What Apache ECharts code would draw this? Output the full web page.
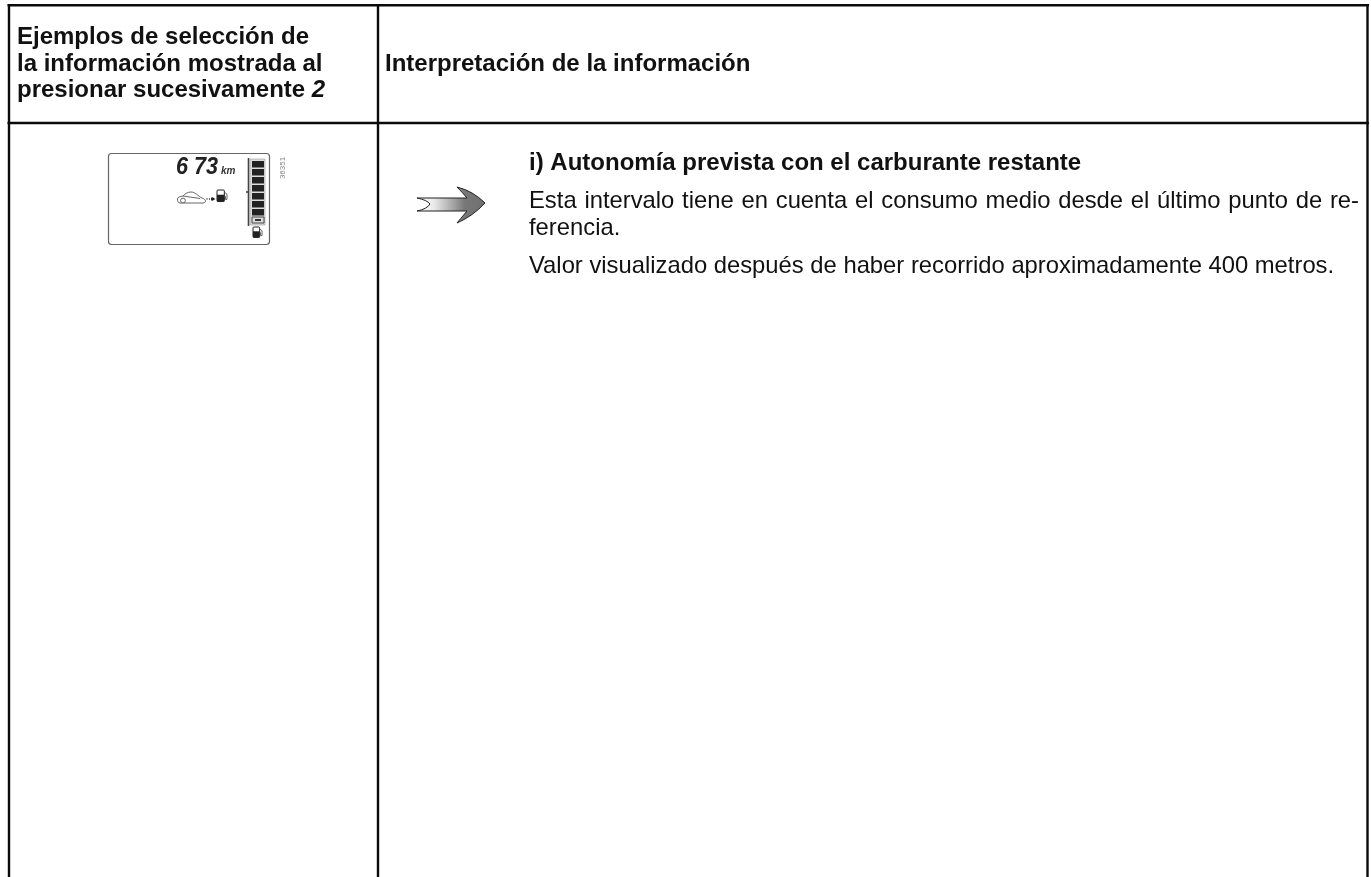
<!DOCTYPE html>
<html><head><meta charset="utf-8">
<style>html,body{margin:0;padding:0;background:#fff}#c{width:1371px;height:877px}</style>
<script src="https://cdn.jsdelivr.net/npm/echarts@6/dist/echarts.min.js"></script>
</head><body><div id="c"></div>
<script>
const headerLeftLines = ['Ejemplos de selección de','la información mostrada al'];
const headerLeftLast = 'presionar sucesivamente ';
const headerLeftItalic = '2';
const headerRight = 'Interpretación de la información';
const itemTitle = 'i) Autonomía prevista con el carburante restante';
const bodyJustified = 'Esta intervalo tiene en cuenta el consumo medio desde el último punto de re-';
const bodyCont = 'ferencia.';
const bodyLast = 'Valor visualizado después de haber recorrido aproximadamente 400 metros.';
const lcdValue = '6 73';
const lcdUnit = 'km';
const lcdCode = '36351';
const gaugeCellTops = [161,169,177,185,193,201,209];

const FF = '"Liberation Sans", Arial, sans-serif';
const chart = echarts.init(document.getElementById('c'), null, {renderer:'canvas'});
const el = [];
function reg(name,d){echarts.graphic.registerShape(name,echarts.graphic.extendPath(d,{}));}
reg('arrowShape','M417 198 L467 198 Q462 192 457 187 Q473 191 485 203 Q473 216 457 223 Q462 217 467 211 L417 211 Q427 209 430 204 Q427 200 417 198 Z');
reg('carShape','M177.5 199 C177.5 197 180 196.5 183 196 C185 193.5 188 192 191 192 C195 192 198 196 202 198 C204 198.5 205.5 200 205.5 201 C205.5 202.5 204 203 203 203 L180 203 C178 203 177.5 201 177.5 199 Z M183 196 L200 198.5');
function line(x1,y1,x2,y2,w,c){el.push({type:'line',shape:{x1,y1,x2,y2},style:{stroke:c||'#0a0a0a',lineWidth:w||2.4}});}
function text(t,x,y,font,fill,extra){el.push(Object.assign({type:'text',x,y,style:{text:t,fill:fill||'#111',font,verticalAlign:'middle'}},extra));}
const B=`bold 24px ${FF}`, N=`23.8px ${FF}`;
// table
line(7.5,5.2,1369,5.2); line(7.5,123,1369,123);
line(9,4,9,877); line(378,4,378,877); line(1367.5,4,1367.5,877);
// header
text(headerLeftLines[0],17,37,B);
text(headerLeftLines[1],17,64.3,B);
el.push({type:'text',x:17,y:90,style:{text:'{b|'+headerLeftLast+'}{i|'+headerLeftItalic+'}',verticalAlign:'middle',rich:{b:{font:B,fill:'#111'},i:{font:`italic ${B}`,fill:'#111'}}}});
text(headerRight,385,64,B);
// right column text
text(itemTitle,529,163,B);
// justified first body line, spread to the column's right edge
(function(){
  const ctx=document.createElement('canvas').getContext('2d'); ctx.font=N;
  const words=bodyJustified.split(' '), right=1359, left=529;
  const total=words.reduce((s,w)=>s+ctx.measureText(w).width,0);
  const gap=(right-left-total)/(words.length-1);
  let x=left;
  words.forEach(w=>{text(w,x,201,N);x+=ctx.measureText(w).width+gap;});
})();
text(bodyCont,529,228.4,N);
text(bodyLast,529,266,N);
// lcd
el.push({type:'rect',shape:{x:108.5,y:153.5,width:161,height:91,r:3},style:{fill:'#fff',stroke:'#666',lineWidth:1.2}});
text(lcdValue,176,167,`italic bold 24px ${FF}`,'#222',{scaleX:.9});
text(lcdUnit,221,171,`italic bold 10px ${FF}`,'#333');
el.push({type:'text',x:283,y:168,rotation:Math.PI/2,style:{text:lcdCode,fill:'#888',font:`8px ${FF}`,align:'center',verticalAlign:'middle'}});
// gauge
el.push({type:'rect',shape:{x:250,y:159,width:15,height:66},style:{fill:'#ddd',stroke:'#999',lineWidth:.6}});
line(248.5,158,248.5,226,1.6,'#444');
line(246,192,248.5,192,1.6,'#444');
gaugeCellTops.forEach(y=>el.push({type:'rect',shape:{x:252,y,width:12,height:6.5},style:{fill:'#222'}}));
el.push({type:'rect',shape:{x:252,y:217,width:12,height:6},style:{fill:'#ddd',stroke:'#444',lineWidth:1}});
el.push({type:'rect',shape:{x:255,y:219,width:6,height:2},style:{fill:'#333'}});
// fuel pump icons
function pump(x,y,s){
  el.push({type:'rect',shape:{x,y,width:7*s,height:11*s,r:1},style:{fill:'#fff',stroke:'#222',lineWidth:1}});
  el.push({type:'rect',shape:{x,y:y+4.5*s,width:7*s,height:6.5*s},style:{fill:'#222'}});
  el.push({type:'polyline',shape:{points:[[x+7*s,y+2*s],[x+9.5*s,y+4*s],[x+9.5*s,y+9*s],[x+8*s,y+9*s],[x+8*s,y+6*s],[x+7*s,y+6*s]]},style:{fill:'none',stroke:'#555',lineWidth:.9}});
}
pump(217,190,1.05); pump(253,227,.95);
// car
el.push({type:'carShape',style:{fill:'#fff',stroke:'#555',lineWidth:.9}});
el.push({type:'circle',shape:{cx:183,cy:200.5,r:2.4},style:{fill:'#fff',stroke:'#555',lineWidth:.9}});
[207,209.5].forEach(x=>el.push({type:'circle',shape:{cx:x,cy:199,r:.7},style:{fill:'#222'}}));
el.push({type:'polygon',shape:{points:[[211,198.3],[212,197],[215.5,199],[212,201],[211,199.7]]},style:{fill:'#222'}});
// arrow
el.push({type:'arrowShape',style:{fill:new echarts.graphic.LinearGradient(0,0,1,0,[{offset:0,color:'#fff'},{offset:.25,color:'#eaeaea'},{offset:.55,color:'#a0a0a0'},{offset:.7,color:'#777'},{offset:1,color:'#707070'}]),stroke:'#222',lineWidth:1}});
chart.setOption({animation:false,backgroundColor:'#fff',graphic:{elements:el}});
</script></body></html>
